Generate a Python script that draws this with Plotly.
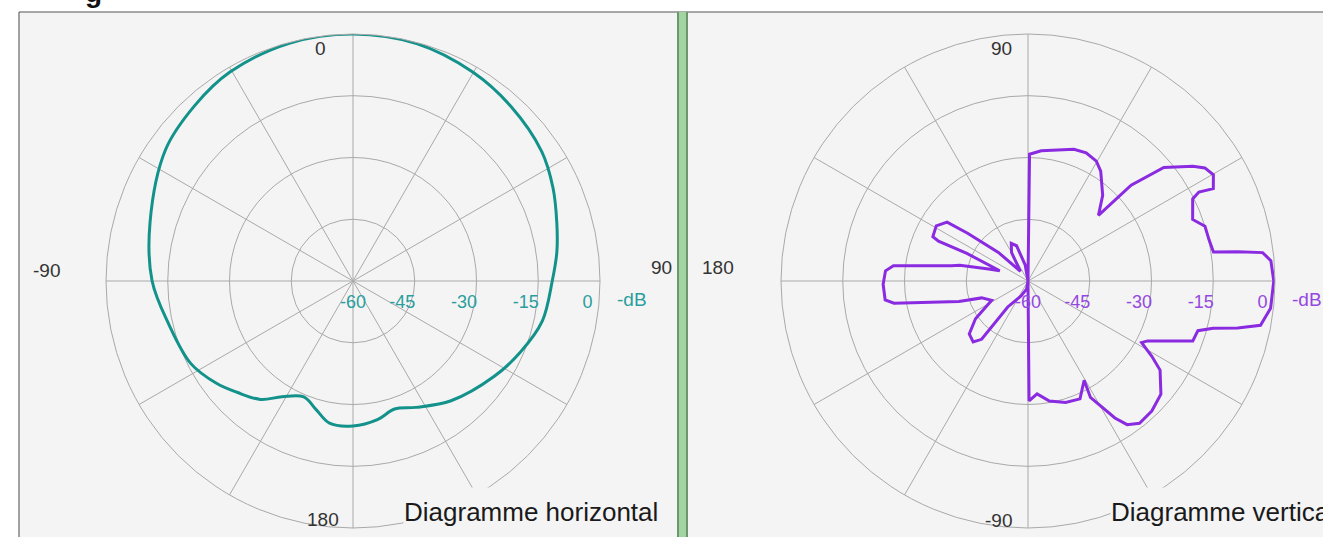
import plotly.graph_objects as go

W, H = 1323, 537

# ---------------- data ----------------
# Horizontal diagram (0 at top, clockwise), level in dB
h_theta = [0, 15, 29.8, 42, 55.5, 65, 74, 82, 90, 102, 113, 124, 140.7, 153.5, 162, 170,
           180, 189.4, 196, 203, 211.5, 218, 226, 233, 243, 257, 270, 286, 305, 318, 329.5, 345, 360]
h_db = [0, -0.3, -1.5, -2.8, -4.4, -6.4, -8.5, -10, -11.6, -13, -15.8, -18.6, -22.4, -25.7, -27.3, -25.8,
        -24.8, -25, -27.5, -29.4, -27, -23.5, -21, -18.6, -15.8, -14, -11.2, -8.7, -4.4, -2.6, -1.1, -0.2, 0]

# Vertical diagram (0 at right, counterclockwise), level in dB
v_theta = [-90, -89.5, -85.4, -79.9, -72.8, -66.2, -60.5, -61.8, -57.6, -55.4, -51.9, -46.4, -40.4,
           -34, -31.3, -28.5, -26.6, -20, -16.3, -14.3, -12.6, -10.8, -6.4, 0, 4.8, 6.9, 7.9, 8.9,
           12.8, 17.2, 20.5, 26.5, 27.5, 26.5, 29.8, 32.6, 34.8, 39.9, 42.9, 43, 48.9, 56.5, 60.3,
           65.6, 70.8, 84.2, 89.3, 90,
           100, 108, 114, 120, 128, 136, 141.7, 144, 149, 155, 156, 155.7, 160, 163, 167, 168.7,
           173.5, 175.9, 181.3, 187.5, 189.4, 196.6, 200, 208, 215.7, 222, 228, 231.5, 232, 245,
           260, 270]
v_db = [-60, -30.9, -32.5, -30.4, -29.1, -28.7, -32.3, -27.9, -20.6, -17.6, -16.1, -16.4, -17.6,
        -21.3, -24.8, -28.6, -27.5, -17.4, -17, -13.6, -7.8, -2.5, -0.7, -0.3, -0.8, -2.6, -8.5, -14.4,
        -14.9, -15, -17.3, -15.3, -13.2, -9.7, -8.1, -9, -11.2, -17, -25.8, -36.6, -32.4, -28, -26.5,
        -25.8, -26.1, -28.2, -29.2, -60,
        -56, -51, -50, -52, -57, -50, -41.3, -35.7, -34, -34.5, -36.2, -43.7, -52.7, -50, -43, -41,
        -27.1, -25.3, -24.8, -25, -27, -42.5, -48, -50, -44.3, -40.8, -40.1, -41.9, -52, -56,
        -58, -60]

radial_ticks = [-60, -45, -30, -15, 0]
radial_text = ["-60", "-45", "-30", "-15", "0"]
spokes = list(range(0, 360, 30))

left_angle_labels = ["0", "90", "180", "-90"]
right_angle_labels = ["90", "180", "-90"]
left_title = "Diagramme horizontal"
right_title = "Diagramme vertical"
unit = "-dB"

# ---------------- styling / layout ----------------
TEAL = "#12928a"
TEAL_TXT = "#2a9e9e"
PURPLE = "#8a2be2"
PURPLE_TXT = "#9548e0"
BG = "#f4f4f4"
GRID = "#a9a9a9"

R = 247
left_c = (353, 281)
right_c = (1028, 281)
NB = "\u00a0" * 5  # pads labels so they sit just inside their ring, as in the original


def px(x):
    return x / W


def py(y):
    return 1 - y / H


def dom(c):
    return dict(x=[px(c[0] - R), px(c[0] + R)], y=[py(c[1] + R), py(c[1] - R)])


def polar_cfg(c, rotation, direction, txtcol):
    ttext = [t if v == -60 else t + NB for t, v in zip(radial_text, radial_ticks)]
    return dict(
        domain=dom(c),
        bgcolor=BG,
        angularaxis=dict(rotation=rotation, direction=direction, tickmode="array",
                         tickvals=spokes, showticklabels=False, ticks="",
                         gridcolor=GRID, gridwidth=1, showline=True, linecolor=GRID, linewidth=1),
        radialaxis=dict(range=[-60, 0], tickmode="array", tickvals=radial_ticks, ticktext=ttext,
                        angle=0, side="clockwise", showline=False, ticks="outside", ticklen=5,
                        tickcolor="rgba(0,0,0,0)",
                        gridcolor=GRID, gridwidth=1,
                        tickfont=dict(family="Arial", size=18, color=txtcol)),
    )


fig = go.Figure()
fig.add_trace(go.Scatterpolar(r=h_db, theta=h_theta, mode="lines", subplot="polar",
                              line=dict(color=TEAL, width=3, shape="spline"), showlegend=False))
fig.add_trace(go.Scatterpolar(r=v_db, theta=v_theta, mode="lines", subplot="polar2",
                              line=dict(color=PURPLE, width=3), showlegend=False))

shapes = [
    # panel backgrounds
    dict(type="rect", xref="paper", yref="paper", x0=px(19), x1=px(677), y0=0, y1=py(12),
         fillcolor=BG, line=dict(width=0), layer="below"),
    dict(type="rect", xref="paper", yref="paper", x0=px(688), x1=1, y0=0, y1=py(12),
         fillcolor=BG, line=dict(width=0), layer="below"),
    # borders
    dict(type="line", xref="paper", yref="paper", x0=px(19), x1=1, y0=py(12), y1=py(12),
         line=dict(color="#555555", width=1.2)),
    dict(type="line", xref="paper", yref="paper", x0=px(19), x1=px(19), y0=0, y1=py(12),
         line=dict(color="#666666", width=1.2)),
    # green divider
    dict(type="rect", xref="paper", yref="paper", x0=px(677), x1=px(688), y0=0, y1=py(12),
         fillcolor="#a3d3a3", line=dict(width=0)),
    dict(type="line", xref="paper", yref="paper", x0=px(678), x1=px(678), y0=0, y1=py(12),
         line=dict(color="#6a986a", width=2)),
    dict(type="line", xref="paper", yref="paper", x0=px(687), x1=px(687), y0=0, y1=py(12),
         line=dict(color="#6a986a", width=2)),
]

annotations = []
lab_font = dict(family="Arial", size=19, color="#333333")
left_offsets = [(-33, -233), (308, -14), (-30, 238), (-306, -11)]
right_offsets = [(-27, -233), (-310, -14), (-30, 239)]
for t, (dx, dy) in zip(left_angle_labels, left_offsets):
    annotations.append(dict(text=t, x=px(left_c[0] + dx), y=py(left_c[1] + dy), xref="paper",
                            yref="paper", xanchor="center", yanchor="middle",
                            showarrow=False, font=lab_font))
for t, (dx, dy) in zip(right_angle_labels, right_offsets):
    annotations.append(dict(text=t, x=px(right_c[0] + dx), y=py(right_c[1] + dy), xref="paper",
                            yref="paper", xanchor="center", yanchor="middle",
                            showarrow=False, font=lab_font))

# unit labels
for c, col in ((left_c, TEAL_TXT), (right_c, PURPLE_TXT)):
    annotations.append(dict(text=unit, x=px(c[0] + R + 32), y=py(c[1] + 18), xref="paper",
                            yref="paper", xanchor="center", yanchor="middle", showarrow=False,
                            font=dict(family="Arial", size=19, color=col)))

# diagram titles with background box hiding the outer ring
annotations.append(dict(text=left_title, x=px(403), y=0, xref="paper", yref="paper",
                        xanchor="left", yanchor="bottom", width=272, height=48, align="left",
                        valign="middle", bgcolor=BG, showarrow=False, borderpad=0,
                        font=dict(family="Arial", size=26, color="#1a1a1a")))
annotations.append(dict(text=right_title, x=px(1110), y=0, xref="paper", yref="paper",
                        xanchor="left", yanchor="bottom", width=260, height=48, align="left",
                        valign="middle", bgcolor=BG, showarrow=False, borderpad=0,
                        font=dict(family="Arial", size=26, color="#1a1a1a")))

# clipped descender of heading above the panels
annotations.append(dict(text="<b>g</b>", x=px(94), y=py(10), xref="paper", yref="paper",
                        xanchor="center", yanchor="bottom", showarrow=False,
                        font=dict(family="Arial", size=28, color="#111111")))

fig.update_layout(
    width=W, height=H,
    margin=dict(l=0, r=0, t=0, b=0),
    paper_bgcolor="white",
    polar=polar_cfg(left_c, 90, "clockwise", TEAL_TXT),
    polar2=polar_cfg(right_c, 0, "counterclockwise", PURPLE_TXT),
    shapes=shapes,
    annotations=annotations,
    showlegend=False,
)

fig.write_html("out.html", config={"displayModeBar": False},
               post_script="document.body.style.margin='0';document.body.style.overflow='hidden';")
